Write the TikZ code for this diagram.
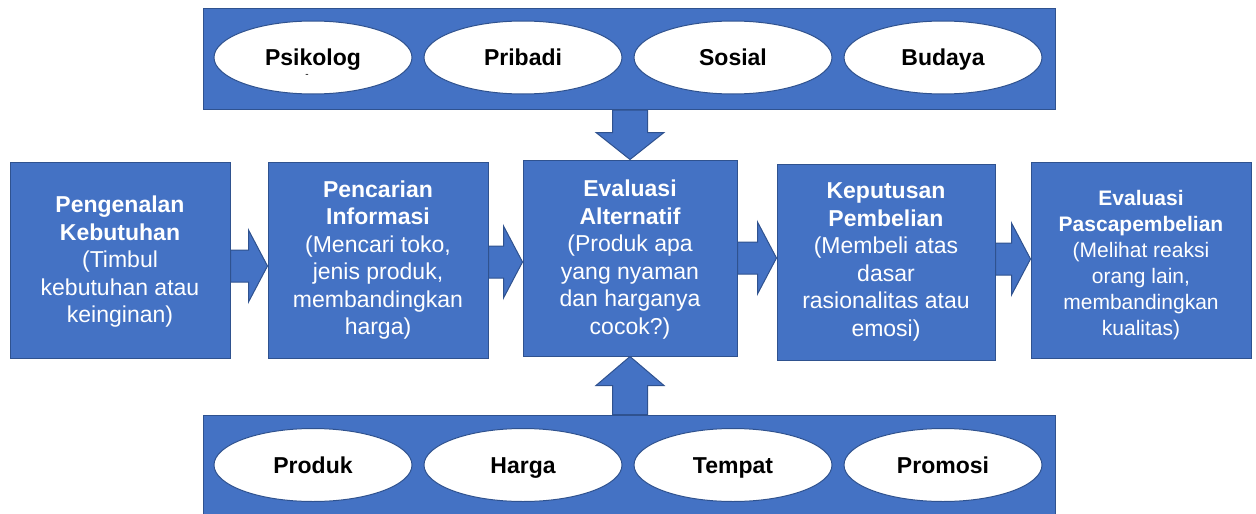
\documentclass[tikz,border=0pt]{standalone}
\usepackage{fontspec}
\setmainfont{Liberation Sans}
\usetikzlibrary{shapes.geometric,calc}
\definecolor{bleu}{HTML}{4472C4}
\definecolor{bleufonce}{HTML}{2F528F}
% Grosse fleche pleine de #1 vers #2 (demi-tige, demi-tete, longueur tete)
\newcommand{\grossefleche}[5]{%
	\coordinate (deb) at (#1);
	\coordinate (fin) at (#2);
	\coordinate (base) at ($(fin)!#5!(deb)$);
	\draw[fleche] ($(deb)!#3!90:(fin)$) -- ($(base)!#3!90:(fin)$) -- ($(base)!#4!90:(fin)$) -- (fin)
		-- ($(base)!#4!-90:(fin)$) -- ($(base)!#3!-90:(fin)$) -- ($(deb)!#3!-90:(fin)$) -- cycle;
}
\begin{document}
\begin{tikzpicture}[x=1pt,y=-1pt,
	boite/.style={draw=bleufonce,fill=bleu,line width=1pt,text=white,align=center,minimum height=196pt,inner sep=2pt,font=\fontsize{23}{27.5}\selectfont},
	ovale/.style={ellipse,draw=bleufonce,fill=white,line width=1pt,minimum width=198pt,minimum height=73pt,inner sep=0pt,text height=16.5pt,text depth=0pt,font=\fontsize{23}{28}\selectfont\bfseries},
	bande/.style={draw=bleufonce,fill=bleu,line width=1pt,minimum width=852pt,minimum height=101pt,inner sep=0pt},
	fleche/.style={draw=bleufonce,fill=bleu,line width=1pt,line join=miter}]
	\useasboundingbox (0,0) rectangle (1256,514);
	%
	% Bandes des facteurs
	\node[bande] (atas) at (629,59) {};
	\node[bande] (bawah) at (629,465.5) {};
	\foreach \nom/\txt [count=\i from 0] in {psikolog/Psikolog,pribadi/Pribadi,sosial/Sosial,budaya/Budaya}{
		\node[ovale] (\nom) at ({313+210*\i},57.5) {\txt};
	};
	\node[font=\fontsize{10}{10}\selectfont,inner sep=0pt] (psikolog-i) at (307,76) {-};
	\foreach \nom/\txt [count=\i from 0] in {produk/Produk,harga/Harga,tempat/Tempat,promosi/Promosi}{
		\node[ovale] (\nom) at ({313+210*\i},465) {\txt};
	};
	%
	% Etapes du processus
	\node[boite,minimum width=220pt] (pengenalan) at (120,260) {\rule{0pt}{20pt}\textbf{Pengenalan}\\\textbf{Kebutuhan}\\(Timbul\\kebutuhan atau\\keinginan)};
	\node[boite,minimum width=220pt] (pencarian) at (378,260) {\textbf{Pencarian}\\\textbf{Informasi}\\(Mencari toko,\\jenis produk,\\membandingkan\\harga)};
	\node[boite,minimum width=214pt] (evaluasi) at (630,258) {\rule{0pt}{20pt}\textbf{Evaluasi}\\\textbf{Alternatif}\\(Produk apa\\yang nyaman\\dan harganya\\cocok?)};
	\node[boite,minimum width=218pt] (keputusan) at (886,262) {\textbf{Keputusan}\\\textbf{Pembelian}\\(Membeli atas\\dasar\\rasionalitas atau\\emosi)};
	\node[boite,minimum width=220pt,font=\fontsize{21}{26}\selectfont] (pasca) at (1141,260) {\rule{0pt}{26pt}\textbf{Evaluasi}\\\textbf{Pascapembelian}\\(Melihat reaksi\\orang lain,\\membandingkan\\kualitas)};
	%
	% Fleches entre les etapes
	\grossefleche{$(pengenalan.east)+(0,6)$}{$(pengenalan.east -| pencarian.west)+(0,6)$}{16pt}{36pt}{19pt}
	\grossefleche{$(pencarian.east)+(0,2)$}{$(pencarian.east -| evaluasi.west)+(0,2)$}{16pt}{36pt}{19pt}
	\grossefleche{evaluasi.east}{evaluasi.east -| keputusan.west}{16pt}{36pt}{19pt}
	\grossefleche{$(keputusan.east)+(0,-3)$}{$(keputusan.east -| pasca.west)+(0,-3)$}{16pt}{36pt}{19pt}
	% Fleches des facteurs
	\grossefleche{atas.south -| evaluasi.north}{evaluasi.north}{17.5pt}{34pt}{27pt}
	\grossefleche{bawah.north -| evaluasi.south}{evaluasi.south}{17.5pt}{34pt}{29pt}
\end{tikzpicture}
\end{document}
